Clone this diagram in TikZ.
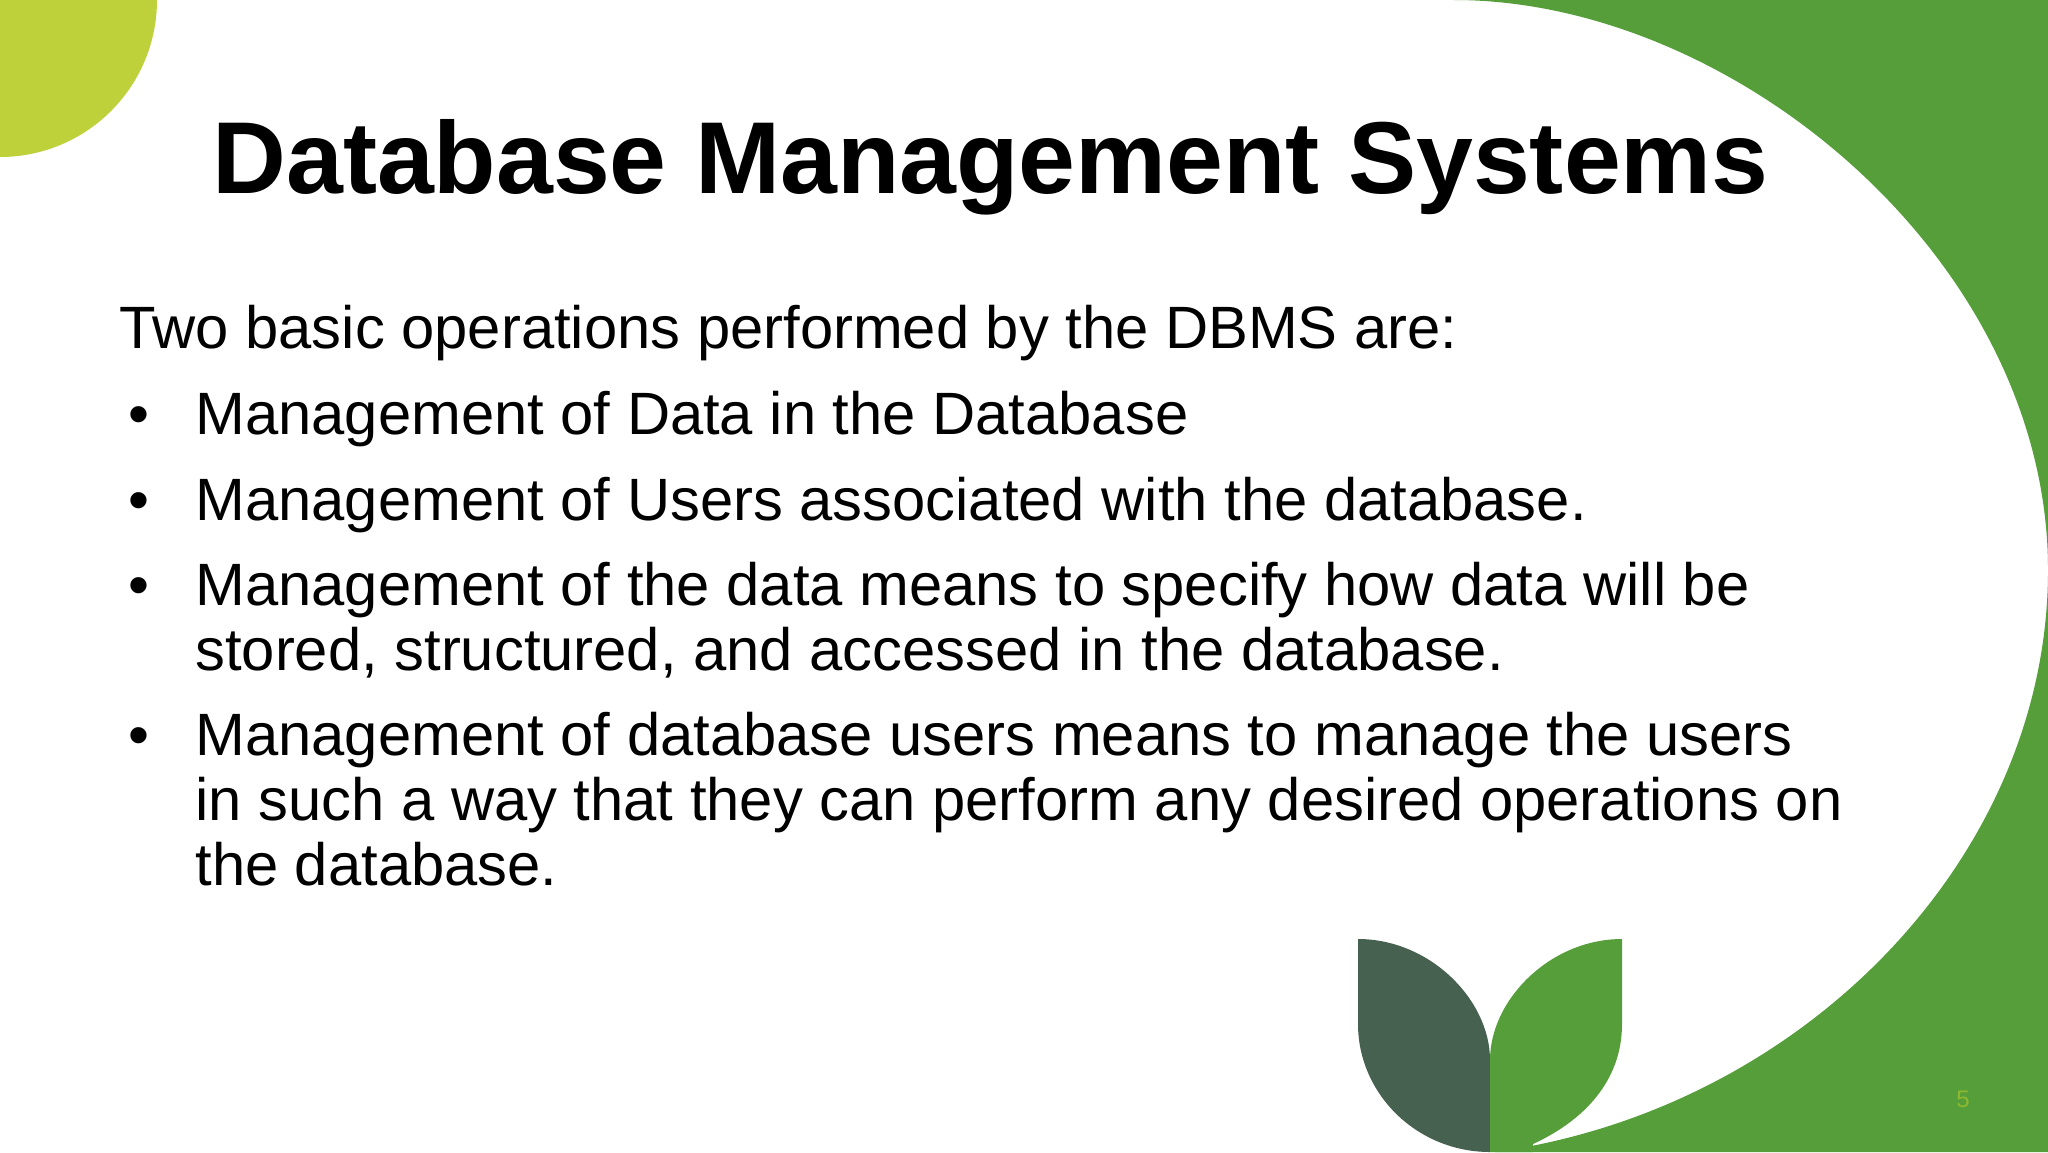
\documentclass[tikz,border=0pt]{standalone}
\usepackage{fontspec}
\setmainfont{Liberation Sans}
\usepackage{xcolor}
\usetikzlibrary{positioning}
\definecolor{leafgreen}{HTML}{569E3A}
\definecolor{leafdark}{HTML}{476150}
\definecolor{limecircle}{HTML}{BFD13A}
\definecolor{pagenum}{HTML}{8CB92F}
\tikzset{
  titlenode/.style={inner sep=0pt, anchor=base west, font=\fontsize{51.1}{59}\selectfont\bfseries},
  bodynode/.style={inner sep=0pt, anchor=base west, align=left, font=\fontsize{29.87}{32.3}\selectfont},
  bulletnode/.style={inner sep=0pt, anchor=base west, font=\fontsize{29.87}{32.3}\selectfont}
}

\begin{document}
\begin{tikzpicture}[x=0.5pt, y=-0.5pt]
\useasboundingbox (0,0) rectangle (2048,1152);

% Background shapes
\fill[white] (0,0) rectangle (2048,1152);
\fill[limecircle] (0,0) circle[radius=78.5pt];
\fill[leafgreen] (1454,0) .. controls (1734,0) and (2048,260) .. (2048,570)
  .. controls (2048,860) and (1800,1110) .. (1495,1152) -- (2048,1152) -- (2048,0) -- cycle;
\fill[leafdark] (1358,939) .. controls (1430,939) and (1490,1000) .. (1490,1060) -- (1490,1152)
  .. controls (1417,1152) and (1358,1094) .. (1358,1024) -- cycle;
\fill[leafgreen] (1622,939) .. controls (1550,939) and (1490,1000) .. (1490,1060) -- (1490,1152) -- (1533,1152)
  -- (1533,1144) .. controls (1585,1120) and (1622,1080) .. (1622,1024) -- cycle;

% Nodes
\node[titlenode] (title) at (212,193) {Database Management Systems};
\node[bodynode] (intro) at (119,348) {Two basic operations performed by the DBMS are:};
\node[bulletnode] (bulletA) at (128,434) {•};
\node[bodynode] (itemA) at (195,434) {Management of Data in the Database};
\node[bulletnode] (bulletB) at (128,520) {•};
\node[bodynode] (itemB) at (195,520) {Management of Users associated with the database.};
\node[bulletnode] (bulletC) at (128,605) {•};
\node[bodynode] (itemC) at (195,670) {Management of the data means to specify how data will be\\stored, structured, and accessed in the database.};
\node[bulletnode] (bulletD) at (128,755) {•};
\node[bodynode] (itemD) at (195,885) {Management of database users means to manage the users\\in such a way that they can perform any desired operations on\\the database.};
\node[text=pagenum, inner sep=0pt, font=\fontsize{12}{14}\selectfont] (pageno) at (1963,1099) {5};

\end{tikzpicture}
\end{document}
